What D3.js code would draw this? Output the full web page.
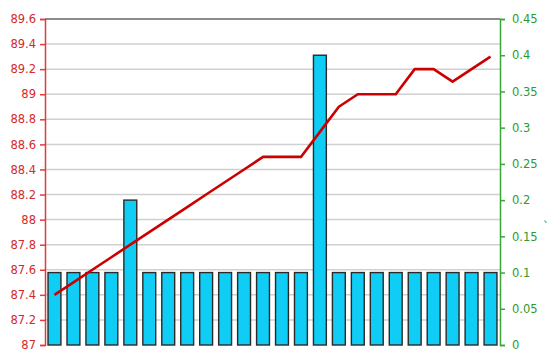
<!DOCTYPE html>
<html>
<head>
<meta charset="utf-8">
<script src="https://cdn.jsdelivr.net/npm/d3@7"></script>
<style>
  body { margin: 0; background: #fff; }
  svg text { font-family: "DejaVu Sans", Verdana, sans-serif; font-size: 11.5px; }
</style>
</head>
<body>
<svg width="550" height="364"></svg>
<script>
  const categories = d3.range(1, 25).map(String);
  const barValues = [0.1, 0.1, 0.1, 0.1, 0.2, 0.1, 0.1, 0.1, 0.1, 0.1, 0.1, 0.1,
                     0.1, 0.1, 0.4, 0.1, 0.1, 0.1, 0.1, 0.1, 0.1, 0.1, 0.1, 0.1];
  const lineValues = [87.4, 87.5, 87.6, 87.7, 87.8, 87.9, 88.0, 88.1, 88.2, 88.3, 88.4, 88.5,
                      88.5, 88.5, 88.7, 88.9, 89.0, 89.0, 89.0, 89.2, 89.2, 89.1, 89.2, 89.3];
  const leftTicks = [87, 87.2, 87.4, 87.6, 87.8, 88, 88.2, 88.4, 88.6, 88.8, 89, 89.2, 89.4, 89.6];
  const rightTicks = [0, 0.05, 0.1, 0.15, 0.2, 0.25, 0.3, 0.35, 0.4, 0.45];

  const svg = d3.select('svg');
  const margin = { top: 19, right: 50, bottom: 19, left: 45 };
  const width = +svg.attr('width');
  const height = +svg.attr('height');
  const innerWidth = width - margin.left - margin.right;
  const innerHeight = height - margin.top - margin.bottom;

  const g = svg.append('g')
    .attr('transform', `translate(${margin.left},${margin.top})`);

  const xScale = d3.scaleBand()
    .domain(categories)
    .range([0, innerWidth])
    .paddingInner(0.32)
    .paddingOuter(0.16);

  const yLeft = d3.scaleLinear().domain([87, 89.6]).range([innerHeight, 0]);
  const yRight = d3.scaleLinear().domain([0, 0.45]).range([innerHeight, 0]);

  // grid
  g.append('g')
    .selectAll('line').data(leftTicks.slice(1, -1))
    .enter().append('line')
      .attr('x1', 0).attr('x2', innerWidth)
      .attr('y1', d => yLeft(d)).attr('y2', d => yLeft(d))
      .attr('stroke', '#d0d0d0').attr('stroke-width', 1.5);

  g.append('line')
    .attr('x1', 0).attr('x2', innerWidth)
    .attr('y1', yLeft(89.6)).attr('y2', yLeft(89.6))
    .attr('stroke', '#666').attr('stroke-width', 1.5);

  // bars
  g.selectAll('rect.bar').data(barValues)
    .enter().append('rect')
      .attr('class', 'bar')
      .attr('x', (d, i) => xScale(categories[i]))
      .attr('y', d => yRight(d))
      .attr('width', xScale.bandwidth())
      .attr('height', d => innerHeight - yRight(d))
      .attr('fill', '#0fcdf5')
      .attr('stroke', '#2a2a2a')
      .attr('stroke-width', 1.4);

  // line
  const line = d3.line()
    .x((d, i) => xScale(categories[i]) + xScale.bandwidth() / 2)
    .y(d => yLeft(d));

  g.append('path')
    .datum(lineValues)
    .attr('fill', 'none')
    .attr('stroke', '#cc0000')
    .attr('stroke-width', 2.6)
    .attr('stroke-linejoin', 'round')
    .attr('d', line);

  // left axis
  const leftAxisG = g.append('g')
    .call(d3.axisLeft(yLeft).tickValues(leftTicks).tickFormat(d3.format('')).tickSize(5).tickPadding(4));
  leftAxisG.selectAll('path, line').attr('stroke', '#e03c3c').attr('stroke-width', 1.5);
  leftAxisG.selectAll('text').attr('fill', '#d42a2a');

  // right axis
  const rightAxisG = g.append('g')
    .attr('transform', `translate(${innerWidth},0)`)
    .call(d3.axisRight(yRight).tickValues(rightTicks).tickFormat(d3.format('')).tickSize(5).tickPadding(7));
  rightAxisG.selectAll('path, line').attr('stroke', '#3aa63a').attr('stroke-width', 1.5);
  rightAxisG.selectAll('text').attr('fill', '#2e9a2e');

  // small mark of the right axis title
  svg.append('text')
    .attr('x', 543).attr('y', 220)
    .attr('fill', '#2e9a2e')
    .attr('font-size', 9)
    .text('\u02CE');
</script>
</body>
</html>
